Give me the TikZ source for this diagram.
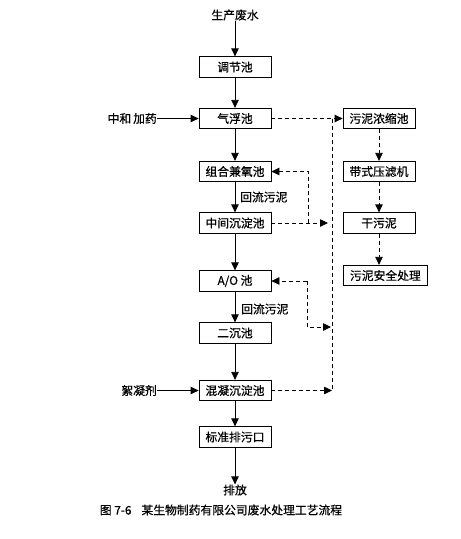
\documentclass[tikz,border=0pt]{standalone}
\usepackage{fontspec}
\newfontfamily\cjk[FakeBold=0.6]{Noto Sans CJK SC}
\usetikzlibrary{arrows.meta}
\begin{document}
\begin{tikzpicture}[x=1pt,y=-1pt,
  font=\cjk\fontsize{11.8}{13}\selectfont,
  box/.style={draw,line width=0.8pt,minimum width=72pt,minimum height=20.5pt,inner sep=0pt},
  arr/.style={line width=0.8pt,-{Triangle[length=8pt,width=7.5pt]}},
  dsh/.style={line width=0.8pt,dash pattern=on 4pt off 3pt},
  darr/.style={dsh,-{Triangle[length=8pt,width=7.5pt]}},
  lbl/.style={inner sep=0pt}]
\fill[white] (0,0) rectangle (461,539);
\useasboundingbox (0,0) rectangle (461,539);
% main column
\node[lbl] (src) at (235,15) {生产废水};
\node[box] (tj) at (235,67) {调节池};
\node[box] (qf) at (235,118.5) {气浮池};
\node[box] (zh) at (235,171.5) {组合兼氧池};
\node[box] (zj) at (235,223) {中间沉淀池};
\node[box] (ao) at (235,281) {A/O 池};
\node[box] (ec) at (235,333) {二沉池};
\node[box] (hn) at (235,390.5) {混凝沉淀池};
\node[box] (bz) at (235,437) {标准排污口};
\node[lbl] (pf) at (235,490) {排放};
\node[lbl] (cap) at (221,510) {图 7-6\hspace{10pt}某生物制药有限公司废水处理工艺流程};
% left inputs
\node[lbl,anchor=east] (zhj) at (157,118.5) {中和\,加药};
\node[lbl,anchor=east] (xnj) at (157,390.5) {絮凝剂};
% labels
\node[lbl,anchor=west] (hl1) at (240,197) {回流污泥};
\node[lbl,anchor=west] (hl2) at (241,309) {回流污泥};
% right column
\node[box] (ns) at (379,118.5) {污泥浓缩池};
\node[box] (dy) at (379,171.5) {带式压滤机};
\node[box] (gw) at (379,223) {干污泥};
\node[box,minimum width=84pt,anchor=west] (aq) at (343,275.5) {污泥安全处理};
% solid arrows
\draw[arr] (src) -- (tj);
\draw[arr] (tj) -- (qf);
\draw[arr] (qf) -- (zh);
\draw[arr] (zh) -- (zj);
\draw[arr] (zj) -- (ao);
\draw[arr] (ao) -- (ec);
\draw[arr] (ec) -- (hn);
\draw[arr] (hn) -- (bz);
\draw[arr] (bz) -- (pf);
\draw[arr] (zhj) -- (qf);
\draw[arr] (xnj) -- (hn);
% dashed sludge lines
\coordinate (vt) at (332,118.5);
\coordinate (vb) at (332,390.5);
\coordinate (l1) at (308,223);
\coordinate (l1e) at (328,223);
\coordinate (l2) at (307,281);
\coordinate (l2e) at (331,327);
\draw[darr] (qf.east) -- (ns.west);
\draw[dsh] (vt) -- (vb);
\draw[darr] (hn.east) -- (vb);
\draw[darr] (zj.east) -- (l1e);
\draw[darr] (l1) |- (zh.east);
\draw[darr] (l2) -- (ao.east);
\draw[darr] (l2) |- (l2e);
\draw[darr] (ns) -- (dy);
\draw[darr] (dy) -- (gw);
\draw[darr] (gw) -- (gw|-aq.north);
\end{tikzpicture}
\end{document}
